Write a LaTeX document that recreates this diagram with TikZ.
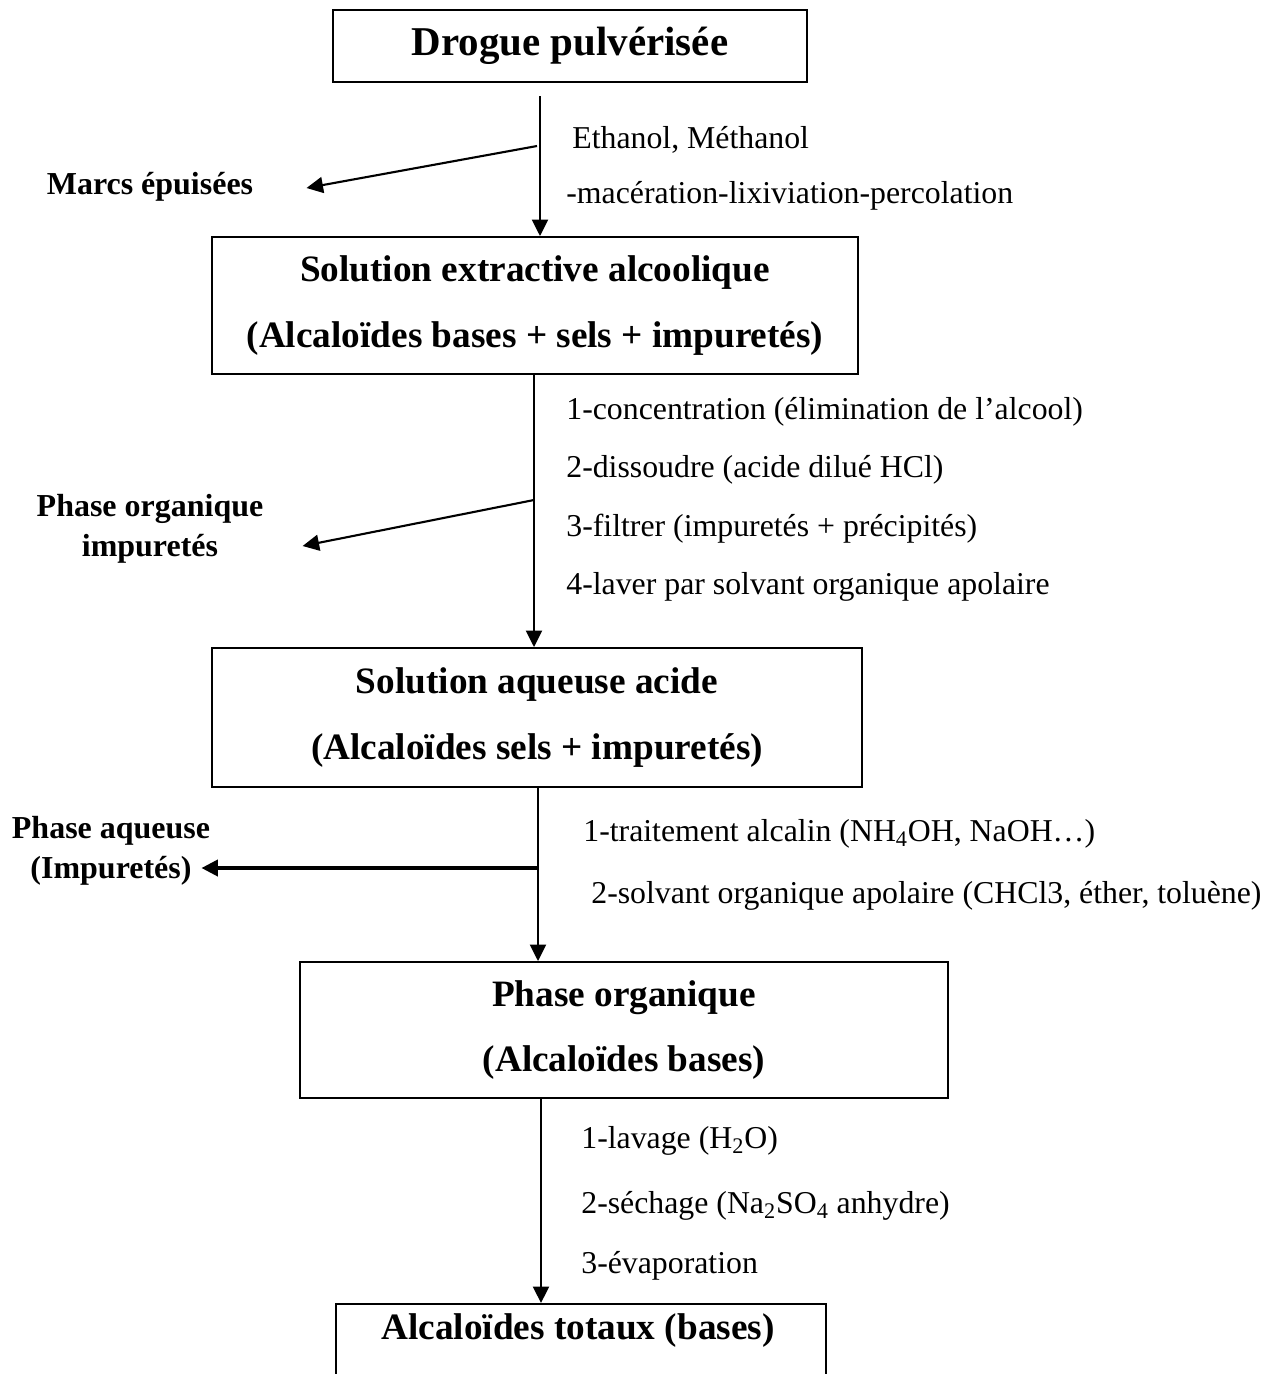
\documentclass[tikz,border=0pt]{standalone}
\usepackage{fontspec}
\setmainfont{Liberation Serif}
\usepackage{tikz}
\usetikzlibrary{arrows.meta, positioning, calc}

\begin{document}
\begin{tikzpicture}[
    x=0.02cm, y=-0.02cm,
    every node/.style={inner sep=0pt},
    box/.style={
        rectangle,
        draw=black,
        line width=1.1pt,
        align=center,
        font=\fontsize{21.2}{37.5}\selectfont\bfseries
    },
    myarrow/.style={
        -{Triangle[length=0.33cm, width=0.32cm]},
        line width=1.2pt
    },
    sidelabel/.style={
        align=center,
        font=\fontsize{18.2}{22.5}\selectfont\bfseries
    },
    steplabel/.style={
        anchor=west,
        font=\fontsize{18.1}{21}\selectfont
    }
]
\useasboundingbox (0,0) rectangle (1284,1374);
\clip (0,0) rectangle (1284,1374);

% Boxes
\node[box, minimum width=9.5cm, minimum height=1.44cm,
      font=\fontsize{23.3}{28}\selectfont\bfseries] (drogue) at (570,46) {Drogue pulvérisée};
\node[box, minimum width=12.92cm, minimum height=2.74cm] (solext) at (535,305.5)
    {Solution extractive alcoolique\\(Alcaloïdes bases + sels + impuretés)};
\node[box, minimum width=13cm, minimum height=2.78cm] (solaq) at (537,717.5)
    {Solution aqueuse acide\\(Alcaloïdes sels + impuretés)};
\node[box, minimum width=12.96cm, minimum height=2.72cm] (phorg) at (624,1030)
    {Phase organique\\(Alcaloïdes bases)};
\node[box, minimum width=9.8cm, minimum height=2.2cm, anchor=north] (total) at (581,1303) {};
\node[box, draw=none] (totaltxt) at (578,1331) {Alcaloïdes totaux (bases)};

% Side labels
\node[sidelabel] (marcs) at (150,187) {Marcs épuisées};
\node[sidelabel] (orgimp) at (150,529) {Phase organique\\impuretés};
\node[sidelabel] (aqimp) at (111,851) {Phase aqueuse\\(Impuretés)};

% Step texts
\node[steplabel] (e1) at (572,140) {Ethanol, Méthanol};
\node[steplabel] (e2) at (566,196) {-macération-lixiviation-percolation};
\node[steplabel] (c1) at (566,412) {1-concentration (élimination de l’alcool)};
\node[steplabel] (c2) at (566,470) {2-dissoudre (acide dilué HCl)};
\node[steplabel] (c3) at (566,529) {3-filtrer (impuretés + précipités)};
\node[steplabel] (c4) at (566,587) {4-laver par solvant organique apolaire};
\node[steplabel] (t1) at (583,834) {1-traitement alcalin (NH\textsubscript{4}OH, NaOH…)};
\node[steplabel] (t2) at (591,896) {2-solvant organique apolaire (CHCl3, éther, toluène)};
\node[steplabel] (l1) at (581,1141) {1-lavage (H\textsubscript{2}O)};
\node[steplabel] (l2) at (581,1206) {2-séchage (Na\textsubscript{2}SO\textsubscript{4} anhydre)};
\node[steplabel] (l3) at (581,1266) {3-évaporation};

% Branch points
\coordinate (top1) at (540,96);
\coordinate (j1) at (537,146);
\coordinate (j2) at (534,500);
\coordinate (j3) at (537,868);

% Vertical arrows
\draw[myarrow] (top1) -- (top1 |- solext.north);
\draw[myarrow] (solext.south -| j2) -- (j2 |- solaq.north);
\draw[myarrow] (solaq.south -| 538,0) -- (538,0 |- phorg.north);
\draw[myarrow] (phorg.south -| 541,0) -- (541,0 |- total.north);

% Side arrows
\draw[myarrow] (j1) -- ($(marcs.east)+(53,1)$);
\draw[myarrow] (j2) -- ($(orgimp.east)+(39,17)$);
\draw[myarrow, line width=2.2pt] (j3) -- ($(aqimp.east)+(-9,17)$);

\end{tikzpicture}
\end{document}
